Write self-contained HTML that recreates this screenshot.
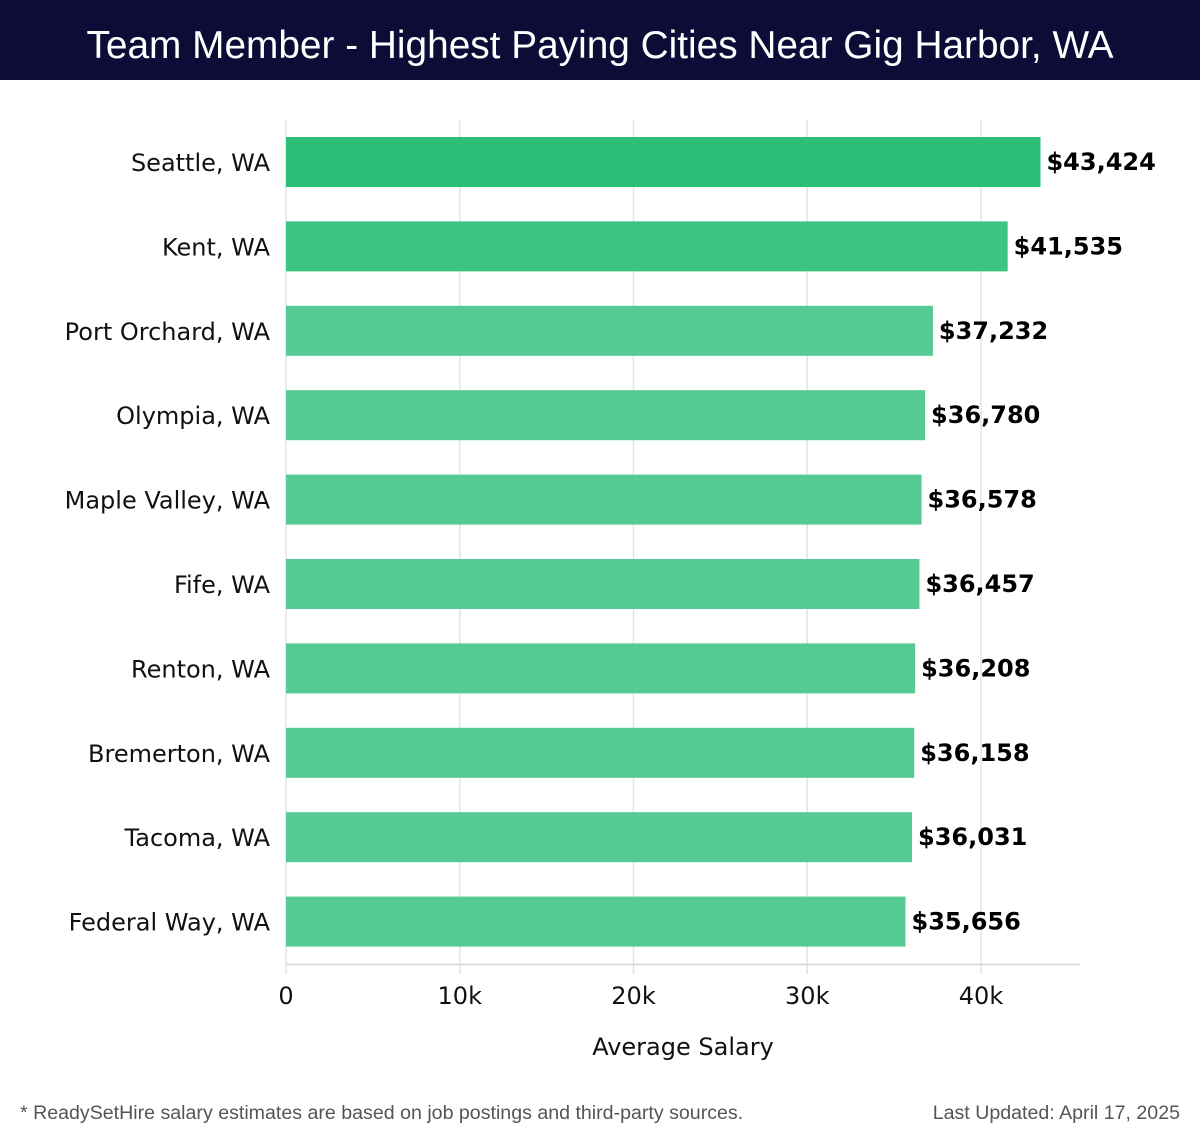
<!DOCTYPE html>
<html><head><meta charset="utf-8"><style>
body{margin:0;width:1200px;height:1140px;background:#fff;overflow:hidden;font-family:"DejaVu Sans","Liberation Sans",sans-serif}
</style></head><body>
<svg id="chart" width="1200" height="1140" xmlns="http://www.w3.org/2000/svg">
<rect x="0" y="0" width="1200" height="80" fill="#0c0c36"/>
<text x="600" y="58" text-anchor="middle" fill="#fff" font-family="Liberation Sans, sans-serif" font-size="38.8">Team Member - Highest Paying Cities Near Gig Harbor, WA</text>
<g id="grid"></g><g id="bars"></g><g id="axis"></g>
<text x="683" y="1055" text-anchor="middle" font-size="24" fill="#111" font-family="DejaVu Sans, sans-serif">Average Salary</text>
<text x="20" y="1119" font-size="19.6" fill="#555" font-family="Liberation Sans, sans-serif">* ReadySetHire salary estimates are based on job postings and third-party sources.</text>
<text x="1180" y="1119" text-anchor="end" font-size="19.6" fill="#555" font-family="Liberation Sans, sans-serif">Last Updated: April 17, 2025</text>
</svg>
<script>
const cities=["Seattle, WA","Kent, WA","Port Orchard, WA","Olympia, WA","Maple Valley, WA","Fife, WA","Renton, WA","Bremerton, WA","Tacoma, WA","Federal Way, WA"];
const salaries=[43424,41535,37232,36780,36578,36457,36208,36158,36031,35656];
const ticks=[0,10000,20000,30000,40000];
const tickLabels=["0","10k","20k","30k","40k"];
const NS="http://www.w3.org/2000/svg";
const x0=286,pxPer=695/40000,rowTop=137,rowStep=84.4,barH=50;
const xs=v=>x0+v*pxPer;
const ys=i=>rowTop+i*rowStep;
function mk(tag,attrs,parent){const e=document.createElementNS(NS,tag);for(const k in attrs)e.setAttribute(k,attrs[k]);parent.appendChild(e);return e;}
const grid=document.getElementById('grid'),bars=document.getElementById('bars'),axis=document.getElementById('axis');
ticks.forEach((t,i)=>{
  const l=mk('line',{x1:xs(t),x2:xs(t),y1:120,y2:974,stroke:'#e3e3e3','stroke-width':1.5},grid);
  
  
  const tx=mk('text',{x:xs(t),y:1004,'text-anchor':'middle','font-size':24,fill:'#111'},axis);
  tx.textContent=tickLabels[i];
  
  
});
const ax=mk('line',{x1:x0,x2:1080,y1:964.5,y2:964.5,stroke:'#d6d6d6','stroke-width':1.5},axis);


const cols=['#2dbf78','#3bc482'];
salaries.forEach((v,i)=>{
  const y=ys(i);
  const r=mk('rect',{x:x0,y:y,width:xs(v)-x0,height:barH,fill:cols[i]||'#55ca92'},bars);
  
  
  const lb=mk('text',{x:270,y:y+34,'text-anchor':'end','font-size':24,fill:'#111'},bars);
  lb.textContent=cities[i];
  
  
  const vl=mk('text',{x:xs(v)+6,y:y+33,'font-size':24,'font-weight':'bold',fill:'#000'},bars);
  vl.textContent='$'+v.toLocaleString('en-US');
  
  
});
</script>
</body></html>
